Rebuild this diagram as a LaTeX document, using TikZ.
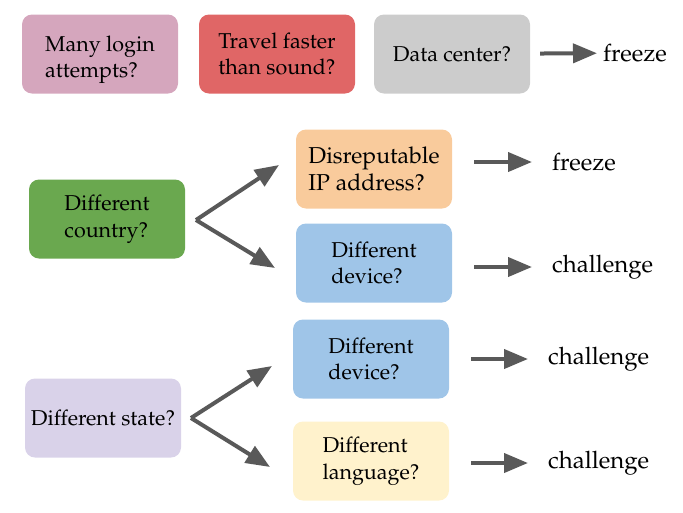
\documentclass[tikz,border=0pt]{standalone}
\usepackage[T1]{fontenc}
\usepackage{mathpazo}
\usetikzlibrary{arrows.meta}

\definecolor{cpink}{HTML}{D5A6BD}
\definecolor{cred}{HTML}{E06666}
\definecolor{cgray}{HTML}{CCCCCC}
\definecolor{cgreen}{HTML}{6AA84F}
\definecolor{corange}{HTML}{F9CB9C}
\definecolor{cblue}{HTML}{9FC5E8}
\definecolor{clav}{HTML}{D9D2E9}
\definecolor{cyellow}{HTML}{FFF2CC}
\definecolor{carrow}{HTML}{595959}

\tikzset{
  box/.style={rounded corners=10pt, minimum width=156pt, minimum height=79pt,
    align=left, font=\fontsize{21.5}{26.5}\selectfont},
  outcome/.style={anchor=west, inner sep=0pt, font=\fontsize{24}{28}\selectfont},
  arr/.style={carrow, line width=4pt, -{Triangle[length=24pt,width=19pt]}}
}

\begin{document}
\begin{tikzpicture}[x=1pt, y=-1pt]
    \useasboundingbox (0,0) rectangle (683,512);

    % Top row of checks
    \node[box, fill=cpink] (login) at (100,54) {\rule{0pt}{27pt}Many login\\attempts?};
    \node[box, fill=cred] (travel) at (277,54) {Travel faster\\than sound?};
    \node[box, fill=cgray] (data) at (452,54) {Data center?};
    \node[outcome] (f1) at (603,53) {freeze};
    \draw[arr, shorten <=10pt, shorten >=6pt] (data) -- (f1);

    % Different country branch
    \node[box, fill=cgreen] (country) at (107,219) {Different\\country?};
    \node[box, fill=corange, font=\fontsize{23}{27}\selectfont] (ip) at (374,169) {Disreputable\\IP address?};
    \node[box, fill=cblue] (device1) at (374,263) {Different\\device?};
    \coordinate (cfork) at (196,220);
    \coordinate (cup) at (279,165);
    \coordinate (cdown) at (275,268);
    \draw[arr] (cfork) -- (cup);
    \draw[arr] (cfork) -- (cdown);
    \node[outcome] (f2) at (552,162) {freeze};
    \node[outcome] (ch1) at (552,267) {challenge};
    \draw[arr, shorten <=22pt, shorten >=20pt] (ip.east |- f2) -- (f2);
    \draw[arr, shorten <=22pt, shorten >=20pt] (device1.east |- ch1) -- (ch1);

    % Different state branch
    \node[box, fill=clav] (state) at (103,418) {Different state?};
    \node[box, fill=cblue] (device2) at (371,359) {Different\\device?};
    \node[box, fill=cyellow] (lang) at (371,461) {Different\\language?};
    \coordinate (sfork) at (191,418);
    \coordinate (sup) at (272,366);
    \coordinate (sdown) at (270,467);
    \draw[arr] (sfork) -- (sup);
    \draw[arr] (sfork) -- (sdown);
    \node[outcome] (ch2) at (548,359) {challenge};
    \node[outcome] (ch3) at (548,463) {challenge};
    \draw[arr, shorten <=22pt, shorten >=20pt] (device2.east |- ch2) -- (ch2);
    \draw[arr, shorten <=22pt, shorten >=20pt] (lang.east |- ch3) -- (ch3);
\end{tikzpicture}
\end{document}
